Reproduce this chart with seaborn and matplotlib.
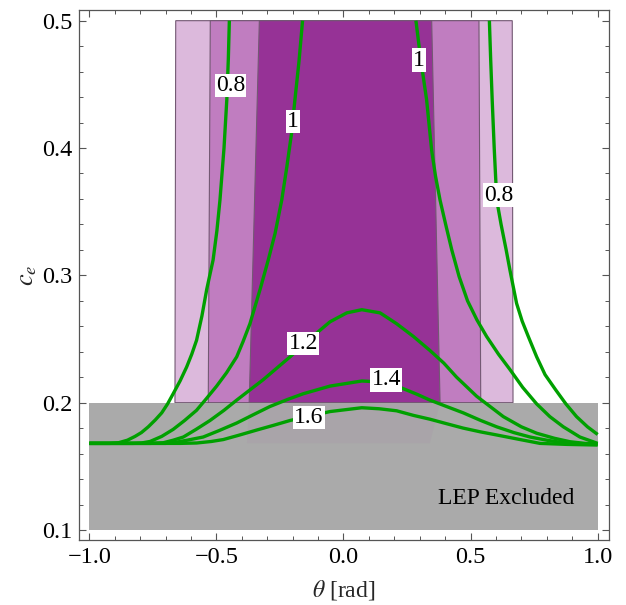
import numpy as np
import pandas as pd
import matplotlib
matplotlib.use("Agg")
import matplotlib.pyplot as plt
import seaborn as sns

# ---------------- data ----------------
# contour curves (theta [rad], c_e)
c08L_theta = [-0.449, -0.453, -0.459, -0.470, -0.486, -0.498, -0.513, -0.538, -0.557, -0.578, -0.597,
              -0.617, -0.643, -0.670, -0.692, -0.715, -0.740, -0.768, -0.795, -0.820, -0.850, -0.885, -0.92, -1.0]
c08L_c = [0.500, 0.470, 0.438, 0.400, 0.359, 0.335, 0.312, 0.289, 0.268, 0.249, 0.238,
          0.228, 0.217, 0.207, 0.199, 0.192, 0.1865, 0.181, 0.1765, 0.1735, 0.1705, 0.1685, 0.168, 0.168]

c10L_theta = [-0.161, -0.175, -0.191, -0.204, -0.223, -0.243, -0.269, -0.296, -0.328, -0.368, -0.395,
              -0.420, -0.460, -0.499, -0.540, -0.578, -0.625, -0.670, -0.715, -0.761, -0.795, -0.828, -0.86, -1.0]
c10L_c = [0.500, 0.468, 0.438, 0.412, 0.385, 0.359, 0.333, 0.312, 0.289, 0.262, 0.248,
          0.236, 0.2235, 0.213, 0.203, 0.194, 0.186, 0.179, 0.1735, 0.1695, 0.1683, 0.168, 0.168, 0.168]

c10R_theta = [0.285, 0.305, 0.327, 0.347, 0.362, 0.380, 0.402, 0.426, 0.455, 0.488, 0.525, 0.563,
              0.610, 0.655, 0.705, 0.760, 0.812, 0.865, 0.930, 1.0]
c10R_c = [0.500, 0.468, 0.438, 0.398, 0.378, 0.359, 0.340, 0.320, 0.299, 0.280, 0.265, 0.252,
          0.238, 0.226, 0.212, 0.199, 0.189, 0.181, 0.173, 0.168]

c08R_theta = [0.574, 0.579, 0.585, 0.593, 0.603, 0.620, 0.640, 0.655, 0.668, 0.681, 0.703, 0.727,
              0.760, 0.793, 0.835, 0.875, 0.917, 0.960, 1.0]
c08R_c = [0.500, 0.470, 0.438, 0.400, 0.359, 0.340, 0.320, 0.304, 0.291, 0.278, 0.264, 0.252,
          0.236, 0.222, 0.210, 0.199, 0.189, 0.181, 0.175]

c12_theta = [-1.0, -0.760, -0.709, -0.670, -0.630, -0.580, -0.525, -0.470, -0.420, -0.316, -0.210,
             -0.130, -0.053, 0.013, 0.072, 0.144, 0.209, 0.275, 0.340, 0.395, 0.445, 0.524, 0.629,
             0.700, 0.760, 0.830, 0.891, 0.950, 1.0]
c12_c = [0.168, 0.168, 0.1685, 0.1705, 0.173, 0.179, 0.186, 0.194, 0.202, 0.218, 0.236,
         0.2505, 0.2635, 0.2705, 0.273, 0.2705, 0.262, 0.252, 0.241, 0.231, 0.220, 0.205, 0.189,
         0.181, 0.176, 0.172, 0.1693, 0.168, 0.1675]

c14_theta = [-1.0, -0.700, -0.670, -0.615, -0.552, -0.490, -0.420, -0.355, -0.289, -0.220, -0.158,
             -0.053, 0.072, 0.170, 0.235, 0.290, 0.340, 0.405, 0.471, 0.540, 0.603, 0.670, 0.734,
             0.800, 0.865, 0.930, 1.0]
c14_c = [0.168, 0.168, 0.1685, 0.1705, 0.173, 0.178, 0.184, 0.1905, 0.197, 0.2025, 0.207,
         0.213, 0.217, 0.216, 0.211, 0.2065, 0.202, 0.197, 0.192, 0.186, 0.181, 0.1765, 0.173,
         0.1705, 0.1685, 0.1678, 0.1675]

c16_theta = [-1.0, -0.643, -0.578, -0.520, -0.473, -0.410, -0.341, -0.275, -0.210, -0.130, -0.053,
             0.072, 0.140, 0.209, 0.275, 0.340, 0.405, 0.471, 0.540, 0.603, 0.690, 0.773, 0.880, 1.0]
c16_c = [0.168, 0.168, 0.1683, 0.1695, 0.171, 0.1745, 0.1785, 0.1822, 0.186, 0.1895, 0.193,
         0.196, 0.1952, 0.1936, 0.190, 0.187, 0.1835, 0.180, 0.177, 0.1746, 0.1712, 0.168, 0.1672, 0.1667]

# contour labels
label_text = ["0.8", "1", "1", "0.8", "1.2", "1.4", "1.6"]
label_theta = [-0.444, -0.198, 0.298, 0.611, -0.158, 0.168, -0.136]
label_c = [0.449, 0.421, 0.469, 0.363, 0.2466, 0.2178, 0.1883]

# allowed bands: edges at c_e = 0.5 (top) and 0.2 (bottom)
band_c = [0.5, 0.2]
light_left = [-0.660, -0.663]; light_right = [0.664, 0.667]
mid_left = [-0.524, -0.532];   mid_right = [0.533, 0.540]
dark_left = [-0.331, -0.371];  dark_right = [0.347, 0.380]
# faint continuation of the darkest band inside the excluded region
tint_c = [0.2, 0.168]
tint_left = [-0.371, -0.380]; tint_right = [0.380, 0.340]

# LEP excluded region
lep_theta = [-1.0, 1.0]
lep_c = [0.1, 0.2]

xticks = [-1.0, -0.5, 0.0, 0.5, 1.0]
xticklabels = ["\u22121.0", "\u22120.5", "0.0", "0.5", "1.0"]
yticks = [0.1, 0.2, 0.3, 0.4, 0.5]
yticklabels = ["0.1", "0.2", "0.3", "0.4", "0.5"]

# ---------------- plot ----------------
sns.set_theme(style="ticks")
plt.rcParams["font.family"] = ["Liberation Serif", "DejaVu Serif"]
plt.rcParams["mathtext.fontset"] = "stix"

fig = plt.figure(figsize=(6.26, 6.05), dpi=100)
ax = fig.add_axes([0.1262, 0.1074, 0.8466, 0.8761])

def band(cs, left, right, color, z, edge=True, alpha=1.0):
    xs = [left[0], right[0], right[1], left[1]]
    ys = [cs[0], cs[0], cs[1], cs[1]]
    ec = (0.45, 0.35, 0.45, 0.6) if edge else "none"
    ax.fill(xs, ys, facecolor=color, edgecolor=ec, linewidth=0.8, zorder=z, alpha=alpha)

band(band_c, light_left, light_right, "#dcb9dc", 1)
band(band_c, mid_left, mid_right, "#c07dc0", 1.1)
band(band_c, dark_left, dark_right, "#963296", 1.2)

ax.fill_between(lep_theta, [lep_c[0]] * 2, [lep_c[1]] * 2, color="#aaaaaa", linewidth=0, zorder=2)
band(tint_c, tint_left, tint_right, "#963296", 2.1, edge=False, alpha=0.045)

curves = {
    "0.8L": (c08L_theta, c08L_c), "1.0L": (c10L_theta, c10L_c),
    "1.0R": (c10R_theta, c10R_c), "0.8R": (c08R_theta, c08R_c),
    "1.2": (c12_theta, c12_c), "1.4": (c14_theta, c14_c), "1.6": (c16_theta, c16_c),
}
rows = []
for name, (t, c) in curves.items():
    for i, (a, b) in enumerate(zip(t, c)):
        rows.append({"curve": name, "order": i, "theta": a, "c": b})
df = pd.DataFrame(rows)
sns.lineplot(data=df, x="theta", y="c", units="curve", estimator=None, sort=False,
             color="#00a000", linewidth=2.4, ax=ax, legend=False, zorder=3)
for line in ax.lines:
    line.set_solid_joinstyle("round")
    line.set_solid_capstyle("butt")

for s, x, y in zip(label_text, label_theta, label_c):
    ax.text(x, y, s, ha="center", va="center", fontsize=17, color="black", zorder=5,
            bbox=dict(facecolor="white", edgecolor="none", pad=0.8))

ax.text(0.642, 0.1248, "LEP Excluded", ha="center", va="center", fontsize=17, color="black", zorder=5)

ax.set_xlim(-1.0405, 1.0445)
ax.set_ylim(0.0921, 0.5084)
ax.set_xticks(xticks)
ax.set_xticklabels(xticklabels)
ax.set_yticks(yticks)
ax.set_yticklabels(yticklabels)
ax.set_xticks(np.round(np.arange(-1.0, 1.01, 0.1), 2), minor=True)
ax.set_yticks(np.round(np.arange(0.1, 0.501, 0.02), 3), minor=True)
ax.tick_params(which="both", direction="in", top=True, right=True, color="#555555",
               labelsize=17.5, labelcolor="black", pad=5)
ax.tick_params(which="major", length=5, width=0.8)
ax.tick_params(which="minor", length=2.7, width=0.7)
for sp in ax.spines.values():
    sp.set_color("#555555")
    sp.set_linewidth(0.9)

ax.set_xlabel(r"$\theta$ [rad]", fontsize=17, labelpad=7)
ax.set_ylabel(r"$c_e$", fontsize=19, labelpad=2)

fig.savefig("out.png", dpi=100)
